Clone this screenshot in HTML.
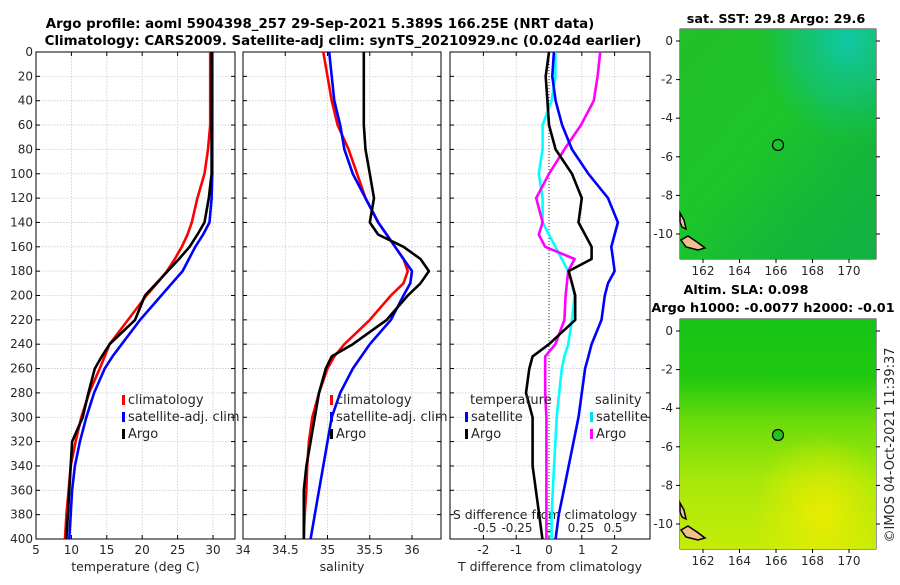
<!DOCTYPE html>
<html><head><meta charset="utf-8"><style>
body{margin:0;background:#fff;width:900px;height:580px;overflow:hidden}
svg{font-family:"DejaVu Sans","Liberation Sans",sans-serif}
</style></head><body>
<svg id="c" width="900" height="580" xmlns="http://www.w3.org/2000/svg">
<defs>
<linearGradient id="sst" x1="0" y1="0" x2="1" y2="1">
<stop offset="0" stop-color="#22bf2a"/><stop offset="0.45" stop-color="#1cc52a"/><stop offset="0.75" stop-color="#14b63a"/><stop offset="1" stop-color="#12b044"/>
</linearGradient>
<radialGradient id="sst2" cx="0.85" cy="0.05" r="0.45">
<stop offset="0" stop-color="#10c8a8"/><stop offset="0.6" stop-color="#12c080" stop-opacity="0.6"/><stop offset="1" stop-color="#12c060" stop-opacity="0"/>
</radialGradient>
<linearGradient id="sla" x1="0" y1="0" x2="0" y2="1">
<stop offset="0" stop-color="#16c417"/><stop offset="0.25" stop-color="#20c810"/><stop offset="0.45" stop-color="#6cdc0a"/><stop offset="0.7" stop-color="#a8e80a"/><stop offset="1" stop-color="#c4ec08"/>
</linearGradient>
<radialGradient id="slaY" cx="0.72" cy="0.85" r="0.35">
<stop offset="0" stop-color="#e8ec00"/><stop offset="1" stop-color="#e8ec00" stop-opacity="0"/>
</radialGradient>
</defs>
<g font-size="13.4" font-weight="bold" text-anchor="middle">
<text x="320" y="28">Argo profile: aoml 5904398_257 29-Sep-2021 5.389S 166.25E (NRT data)</text>
<text x="343" y="45">Climatology: CARS2009. Satellite-adj clim: synTS_20210929.nc (0.024d earlier)</text>
</g>
<g id="plots"></g>
<g>
<text x="776" y="23" font-size="12.8" font-weight="bold" text-anchor="middle">sat. SST: 29.8 Argo: 29.6</text>
<rect x="680" y="29" width="196" height="230" fill="url(#sst)"/>
<rect x="680" y="29" width="196" height="230" fill="url(#sst2)"/>
<path d="M681,240 L688,236 L697,242 L705,248 L698,250 L686,247 Z" fill="#f2bf8c" stroke="#000" stroke-width="1.5"/>
<path d="M680,213 L684,220 L686,229 L682,227 L680,222 Z" fill="#f2bf8c" stroke="#000" stroke-width="1.5"/>
<circle cx="778" cy="145" r="5.5" fill="none" stroke="#000" stroke-width="1.2"/>
</g>
<g>
<text x="746" y="294" font-size="12.8" font-weight="bold" text-anchor="middle">Altim. SLA: 0.098</text>
<text x="773" y="312" font-size="12.8" font-weight="bold" text-anchor="middle">Argo h1000: -0.0077 h2000: -0.01</text>
<rect x="680" y="319" width="196" height="230" fill="url(#sla)"/>
<rect x="680" y="319" width="196" height="230" fill="url(#slaY)"/>
<path d="M681,530 L688,526 L697,532 L705,538 L698,540 L686,537 Z" fill="#f2bf8c" stroke="#000" stroke-width="1.5"/>
<path d="M680,503 L684,510 L686,519 L682,517 L680,512 Z" fill="#f2bf8c" stroke="#000" stroke-width="1.5"/>
<circle cx="778" cy="435" r="5.5" fill="#22c020" stroke="#000" stroke-width="1.2"/>
</g>
<text transform="translate(894,445) rotate(-90)" font-size="13" text-anchor="middle" fill="#262626">©IMOS 04-Oct-2021 11:39:37</text>
</svg>
<script>
const depths=[0,20,40,60,80,100,120,140,150,160,170,180,190,200,220,240,250,260,280,300,320,340,360,380,400];
const tClim=[29.6,29.6,29.6,29.6,29.3,28.8,27.8,27.0,26.4,25.6,24.6,23.5,22.1,20.6,18.0,15.4,14.7,14.0,12.5,11.4,10.6,9.9,9.6,9.3,9.1];
const tSat=[29.9,29.9,29.9,29.9,29.9,29.9,29.8,29.5,28.6,27.5,26.6,25.7,24.2,22.7,19.7,17.1,15.8,14.7,13.2,12.1,11.2,10.5,10.1,9.9,9.7];
const tArgo=[29.8,29.8,29.8,29.8,29.8,29.8,29.4,28.8,27.8,26.7,25.2,23.6,22.0,20.4,19.0,15.4,14.3,13.3,12.4,11.6,10.1,9.9,9.7,9.5,9.3];
const sClim=[34.95,35.0,35.05,35.12,35.25,35.35,35.45,35.6,35.7,35.8,35.9,35.95,35.9,35.75,35.5,35.2,35.08,35.0,34.9,34.82,34.78,34.76,34.75,34.73,34.72];
const sSat=[35.02,35.05,35.08,35.15,35.2,35.3,35.45,35.6,35.7,35.8,35.9,36.0,35.98,35.9,35.75,35.5,35.4,35.3,35.15,35.05,35.0,34.95,34.9,34.85,34.8];
const sArgo=[35.43,35.43,35.43,35.43,35.45,35.5,35.55,35.5,35.6,35.9,36.1,36.2,36.1,35.95,35.7,35.3,35.05,34.98,34.9,34.85,34.8,34.75,34.72,34.72,34.72];
const dtSat=[0.15,0.1,0.2,0.4,0.7,1.2,1.8,2.1,2.0,1.9,1.95,2.0,1.8,1.7,1.6,1.3,1.2,1.1,1.0,0.9,0.75,0.6,0.45,0.3,0.2];
const dtArgo=[0.0,-0.1,-0.05,0.0,0.2,0.7,1.0,0.9,1.1,1.3,1.3,0.6,0.7,0.8,0.8,0.0,-0.5,-0.6,-0.7,-0.5,-0.5,-0.5,-0.4,-0.3,-0.2];
const dsSat=[0.05,0.05,0.02,-0.05,-0.05,-0.08,-0.05,-0.05,0.0,0.05,0.1,0.15,0.18,0.2,0.18,0.15,0.12,0.1,0.08,0.06,0.05,0.04,0.03,0.02,0.02];
const dsArgo=[0.4,0.38,0.35,0.25,0.12,0.0,-0.1,-0.05,-0.08,-0.03,0.2,0.15,0.14,0.13,0.12,0.05,-0.03,-0.03,-0.03,-0.02,-0.02,-0.02,-0.02,-0.02,-0.02];
const depthTicks=[0,20,40,60,80,100,120,140,160,180,200,220,240,260,280,300,320,340,360,380,400];
const tTicks=[5,10,15,20,25,30];
const sTicks=[34,34.5,35,35.5,36];
const dtTicks=[-2,-1,0,1,2];
const dsTicks=[-0.5,-0.25,0,0.25,0.5];
const lonTicks=[162,164,166,168,170];
const latTicks=[0,-2,-4,-6,-8,-10];

const NS="http://www.w3.org/2000/svg";
const g=document.getElementById('plots');
function el(t,a,p){const e=document.createElementNS(NS,t);for(const k in a)e.setAttribute(k,a[k]);(p||g).appendChild(e);return e;}
const Y0=52,Y1=539;
const yD=d=>Y0+(d/400)*(Y1-Y0);
function lin(v0,p0,v1,p1){return v=>p0+(v-v0)*(p1-p0)/(v1-v0);}
const panels=[
 {x0:36,x1:235,sx:lin(5,36,30,213),ticks:tTicks,lab:'temperature (deg C)',name:'temperature-panel'},
 {x0:243,x1:441,sx:lin(34,243,36,412),ticks:sTicks,lab:'salinity',name:'salinity-panel'},
 {x0:450,x1:650,sx:lin(0,549,1,581.8),ticks:dtTicks,lab:'T difference from climatology',name:'difference-panel'}
];
panels.forEach((p,i)=>{
 const pg=el('g',{});
 
 
 el('rect',{x:p.x0,y:Y0,width:p.x1-p.x0,height:Y1-Y0,fill:'#fff'},pg);
 depthTicks.forEach(d=>{
  el('line',{x1:p.x0,x2:p.x1,y1:yD(d),y2:yD(d),stroke:'#c8c8dc','stroke-dasharray':'1.5,1.5','stroke-width':0.8},pg);
  el('line',{x1:p.x0,x2:p.x0+4,y1:yD(d),y2:yD(d),stroke:'#000'},pg);
  el('line',{x1:p.x1,x2:p.x1-4,y1:yD(d),y2:yD(d),stroke:'#000'},pg);
  if(i==0){const t=el('text',{x:p.x0-3,y:yD(d)+4,'font-size':12,'text-anchor':'end',fill:'#262626'},pg);t.textContent=d;}
 });
 p.ticks.forEach(v=>{
  const x=p.sx(v);
  el('line',{x1:x,x2:x,y1:Y0,y2:Y1,stroke:'#c8c8dc','stroke-dasharray':'1.5,1.5','stroke-width':0.8},pg);
  el('line',{x1:x,x2:x,y1:Y1,y2:Y1-4,stroke:'#000'},pg);
  el('line',{x1:x,x2:x,y1:Y0,y2:Y0+4,stroke:'#000'},pg);
  const t=el('text',{x:x,y:554,'font-size':12,'text-anchor':'middle',fill:'#262626'},pg);t.textContent=v;
 });
 if(i==2){
  dsTicks.forEach(v=>{const x=549+v*128;const t=el('text',{x:x,y:532,'font-size':12,'text-anchor':'middle',fill:'#262626'});t.textContent=v;});
  const t=el('text',{x:545,y:519,'font-size':12.5,'text-anchor':'middle',fill:'#262626'});t.textContent='S difference from climatology';
  el('line',{x1:549,x2:549,y1:Y0,y2:Y1,stroke:'#333','stroke-dasharray':'1,2','stroke-width':1});
 }
 const t=el('text',{x:(p.x0+p.x1)/2,y:571,'font-size':12.5,'text-anchor':'middle',fill:'#262626'},pg);t.textContent=p.lab;
 el('rect',{x:p.x0,y:Y0,width:p.x1-p.x0,height:Y1-Y0,fill:'none',stroke:'#000','stroke-width':1},pg);
});
function line(vals,sx,col,name){
 const d=vals.map((v,k)=>(k?'L':'M')+sx(v).toFixed(1)+','+yD(depths[k]).toFixed(1)).join('');
 const e=el('path',{d:d,fill:'none',stroke:col,'stroke-width':2.6,'stroke-linejoin':'round'});
 
 
}
const P=panels;
line(tClim,P[0].sx,'#ff0000','temp-climatology-line');
line(tSat,P[0].sx,'#0000ff','temp-satellite-line');
line(tArgo,P[0].sx,'#000000','temp-argo-line');
line(sClim,P[1].sx,'#ff0000','sal-climatology-line');
line(sSat,P[1].sx,'#0000ff','sal-satellite-line');
line(sArgo,P[1].sx,'#000000','sal-argo-line');
const sds=v=>549+v*128;
line(dsSat,sds,'#00ffff','sdiff-satellite-line');
line(dsArgo,sds,'#ff00ff','sdiff-argo-line');
line(dtSat,P[2].sx,'#0000ff','tdiff-satellite-line');
line(dtArgo,P[2].sx,'#000000','tdiff-argo-line');
function legend(x,y,items,name){
 const lg=el('g',{});
 
 
 items.forEach((it,k)=>{
  if(!it[1]){const t=el('text',{x:x,y:y+k*17+4,'font-size':13,fill:'#262626'},lg);t.textContent=it[0];return;}
  el('rect',{x:x-5,y:y+k*17-5,width:3,height:10,fill:it[1]},lg);
  const t=el('text',{x:x+1,y:y+k*17+4,'font-size':13,fill:'#262626'},lg);t.textContent=it[0];
 });
}
legend(127,400,[['climatology','#ff0000'],['satellite-adj. clim','#0000ff'],['Argo','#000']],'temp-legend');
legend(335,400,[['climatology','#ff0000'],['satellite-adj. clim','#0000ff'],['Argo','#000']],'sal-legend');
legend(470,400,[['temperature',null],['satellite','#0000ff'],['Argo','#000']],'tdiff-legend');
legend(595,400,[['salinity',null],['satellite','#00e0e0'],['Argo','#ff00ff']],'sdiff-legend');
const lonX=lin(162,703,170,849);
[[29,259,41,234],[319,549,331,524]].forEach((m,j)=>{
 const latY=lin(0,m[2],-10,m[3]);
 const mg=el('g',{});
 
 
 el('rect',{x:680,y:m[0],width:196,height:m[1]-m[0],fill:'none',stroke:'#000','stroke-width':0.8},mg);
 lonTicks.forEach(v=>{const x=lonX(v);el('line',{x1:x,x2:x,y1:m[1],y2:m[1]+4,stroke:'#000'},mg);const t=el('text',{x:x,y:m[1]+16,'font-size':12,'text-anchor':'middle',fill:'#262626'},mg);t.textContent=v;});
 latTicks.forEach(v=>{const y=latY(v);el('line',{x1:676,x2:680,y1:y,y2:y,stroke:'#000'},mg);el('line',{x1:876,x2:880,y1:y,y2:y,stroke:'#000'},mg);const t=el('text',{x:673,y:y+4,'font-size':12,'text-anchor':'end',fill:'#262626'},mg);t.textContent=v;});
});
</script>
</body></html>
